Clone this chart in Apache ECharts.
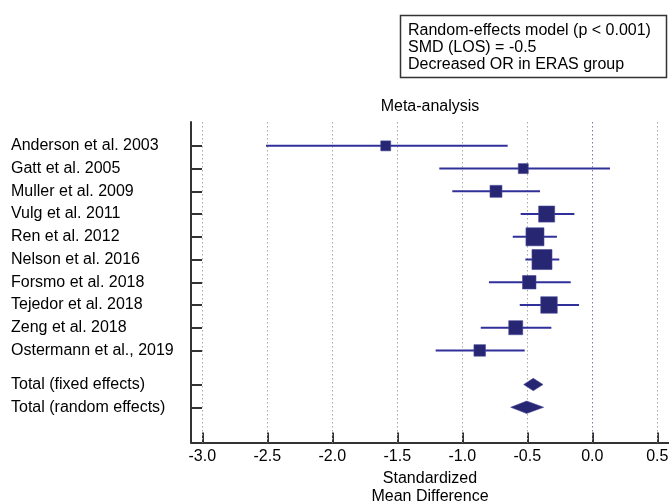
<!DOCTYPE html>
<html><head><meta charset="utf-8">
<script src="https://cdn.jsdelivr.net/npm/echarts@6/dist/echarts.min.js"></script>
<style>html,body{margin:0;padding:0;background:#fff}#c{width:669px;height:503px}</style>
</head><body><div id="c"></div>
<script>
// ---- data ----
const studies = ['Anderson et al. 2003','Gatt et al. 2005','Muller et al. 2009','Vulg et al. 2011','Ren et al. 2012','Nelson et al. 2016','Forsmo et al. 2018','Tejedor et al. 2018','Zeng et al. 2018','Ostermann et al., 2019'];
const studyRows = [0,1,2,3,4,5,6,7,8,9];
const estimates = [-1.589,-0.531,-0.741,-0.351,-0.441,-0.387,-0.485,-0.333,-0.589,-0.866];
const lowerCI  = [-2.510,-1.177,-1.077,-0.551,-0.612,-0.515,-0.795,-0.558,-0.858,-1.205];
const upperCI  = [-0.651, 0.136,-0.402,-0.138,-0.272,-0.254,-0.166,-0.102,-0.315,-0.520];
const weights  = [4.7,4.7,6.8,12.2,15.4,19.0,8.6,12.9,9.3,6.3];
const totalLabels = ['Total (fixed effects)','Total (random effects)'];
const totalRows = [10.5,11.5];
const totalEst = [-0.454,-0.505];
const totalLower = [-0.528,-0.628];
const totalUpper = [-0.379,-0.374];
const xTicks = [-3.0,-2.5,-2.0,-1.5,-1.0,-0.5,0.0,0.5];
const boxLines = ['Random-effects model (p < 0.001)','SMD (LOS) = -0.5','Decreased OR in ERAS group'];
const chartTitle = 'Meta-analysis';
const xName = 'Standardized\nMean Difference';
// ---- chart ----
const FONT = '"Liberation Sans", Arial, sans-serif';
const rowLabel = {};
studyRows.forEach((r,i)=>rowLabel[r]=studies[i]);
totalRows.forEach((r,i)=>rowLabel[r]=totalLabels[i]);
const yTickVals = studyRows.concat(totalRows);
const NAVY = '#262673';
const LINE = '#30309a';

const chart = echarts.init(document.getElementById('c'), null, {renderer:'canvas'});
chart.setOption({
  animation:false,
  backgroundColor:'#fff',
  textStyle:{fontFamily:FONT},
  grid:{left:191, right:0, top:122, bottom:60.5, containLabel:false, outerBoundsMode:'none'},
  xAxis:{
    type:'value', min:-3.087, max:0.59,
    axisLine:{show:true, onZero:false, lineStyle:{color:'#333', width:2}},
    axisTick:{show:true, inside:true, length:10, customValues:xTicks, lineStyle:{color:'#333', width:2}},
    axisLabel:{show:true, customValues:xTicks, formatter:v=>Number(v).toFixed(1), fontSize:16, color:'#000', margin:6, fontFamily:FONT},
    splitLine:{show:false},
    name:xName, nameLocation:'middle', nameGap:27,
    nameTextStyle:{fontSize:16, color:'#000', lineHeight:18, fontFamily:FONT}
  },
  yAxis:{
    type:'value', inverse:true, min:-1.05, max:13.05,
    axisLine:{show:true, onZero:false, lineStyle:{color:'#333', width:2}},
    axisTick:{show:true, inside:true, length:11, customValues:yTickVals, lineStyle:{color:'#333', width:2}},
    axisLabel:{show:true, customValues:yTickVals, formatter:v=>rowLabel[v]||'', align:'left', margin:180, fontSize:16, color:'#000', fontFamily:FONT},
    splitLine:{show:false}
  },
  graphic:[
    {type:'text', x:430, y:107, style:{text:chartTitle, align:'center', verticalAlign:'middle', fill:'#000', font:'16px '+FONT}},
    {type:'rect', shape:{x:400.5, y:15.5, width:266, height:62}, style:{fill:'#fff', stroke:'#333', lineWidth:1.5}},
    {type:'text', x:408, y:22, style:{text:boxLines.join('\n'), lineHeight:17, fill:'#000', font:'16px '+FONT}}
  ],
  series:[
    {
      type:'line', name:'grid', data:[], z:1, silent:true,
      markLine:{
        silent:true, symbol:'none', label:{show:false}, animation:false,
        data: xTicks.map(v=>({xAxis:v, lineStyle:{color: v===0?'#7a7ac0':'#a8a8a8', type:[1.5,2.5], width:1}}))
      }
    },
    {
      type:'custom', name:'studies',
      encode:{x:[1,2,3], y:0},
      data: studyRows.map((r,i)=>[r, estimates[i], lowerCI[i], upperCI[i], weights[i]]),
      renderItem:(params, api)=>{
        const y=api.value(0), est=api.value(1), lo=api.value(2), hi=api.value(3), w=api.value(4);
        const pL=api.coord([lo,y]), pH=api.coord([hi,y]), pE=api.coord([est,y]);
        const s=Math.sqrt(w)*4.6;
        return {type:'group', children:[
          {type:'line', shape:{x1:pL[0],y1:pL[1],x2:pH[0],y2:pH[1]}, style:{stroke:LINE, lineWidth:2}},
          {type:'rect', shape:{x:pE[0]-s/2, y:pE[1]-s/2, width:s, height:s}, style:{fill:NAVY, stroke:'#4a4a9a', lineWidth:0.6}}
        ]};
      },
      z:5
    },
    {
      type:'custom', name:'totals',
      encode:{x:[1,2,3], y:0},
      data: totalRows.map((r,i)=>[r, totalEst[i], totalLower[i], totalUpper[i]]),
      renderItem:(params, api)=>{
        const y=api.value(0), est=api.value(1), lo=api.value(2), hi=api.value(3);
        const pL=api.coord([lo,y]), pH=api.coord([hi,y]), pE=api.coord([est,y]);
        const h=6.2;
        return {type:'polygon', shape:{points:[[pL[0],pL[1]],[pE[0],pE[1]-h],[pH[0],pH[1]],[pE[0],pE[1]+h]]}, style:{fill:NAVY, stroke:'#4a4a9a', lineWidth:0.6}};
      },
      z:5
    }
  ]
});
</script>
</body></html>
